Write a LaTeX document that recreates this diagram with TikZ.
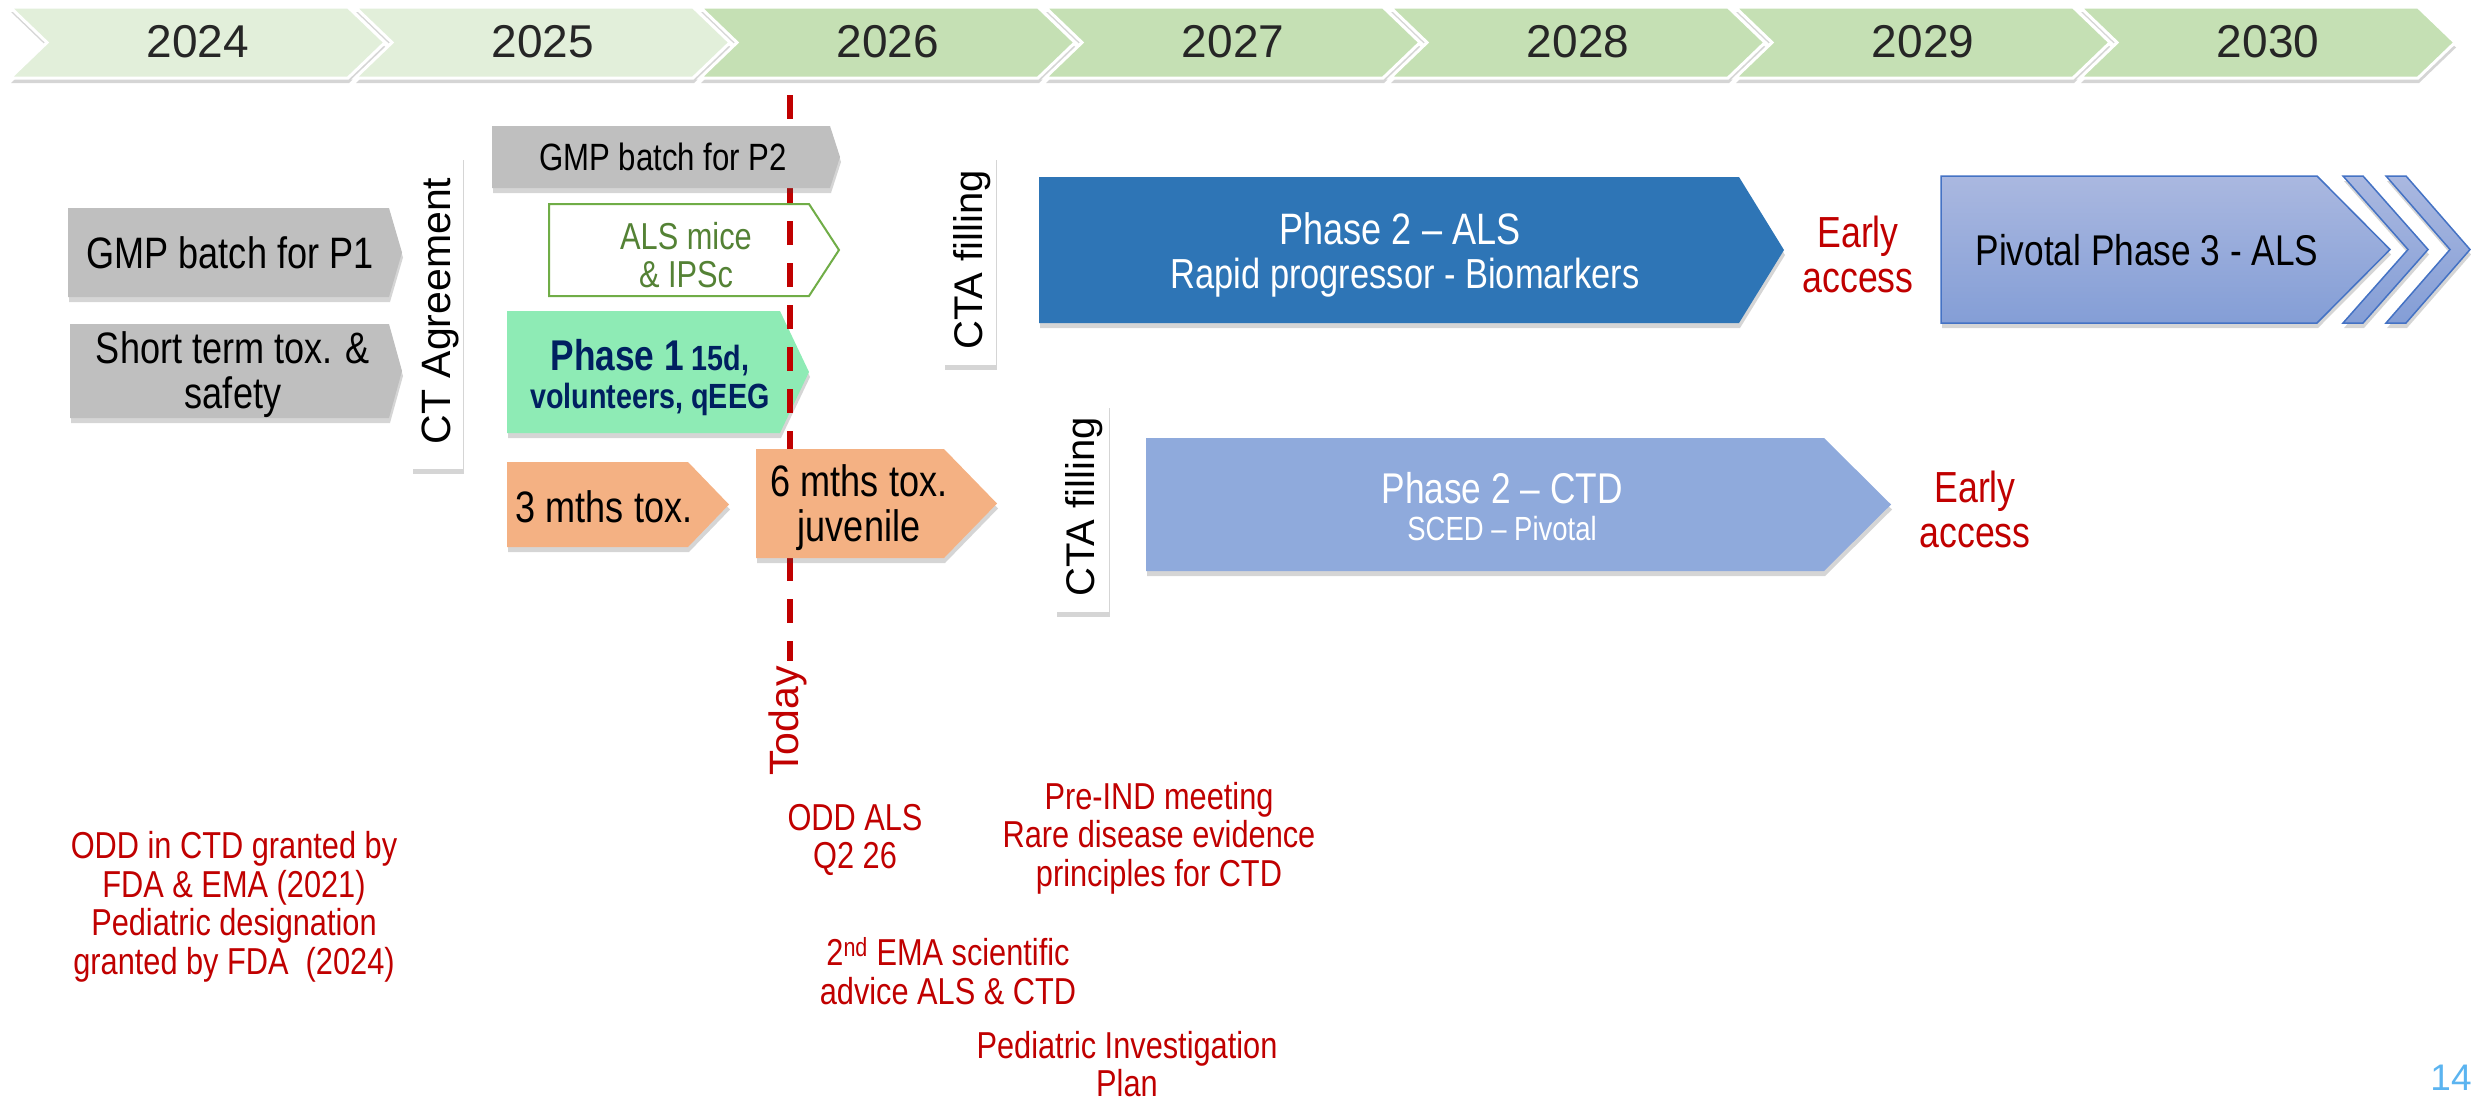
\documentclass[tikz,border=0pt]{standalone}
\usepackage{fontspec}
\setmainfont{Liberation Sans}
\newfontfamily\nar{Liberation Sans}[FakeStretch=0.82,Ligatures=TeX]
\usetikzlibrary{shadows}

\definecolor{yrlight}{RGB}{226,239,218}
\definecolor{yrmid}{RGB}{197,224,180}
\definecolor{yeartext}{RGB}{38,38,38}
\definecolor{boxgray}{RGB}{191,191,191}
\definecolor{mint}{RGB}{142,235,181}
\definecolor{peach}{RGB}{244,177,131}
\definecolor{alsblue}{RGB}{46,117,182}
\definecolor{ctdblue}{RGB}{143,170,220}
\definecolor{pivtop}{RGB}{170,184,224}
\definecolor{pivbot}{RGB}{132,158,214}
\definecolor{pivedge}{RGB}{68,114,196}
\definecolor{darkred}{RGB}{192,0,0}
\definecolor{navy}{RGB}{0,32,96}
\definecolor{leaf}{RGB}{84,130,53}
\definecolor{leafedge}{RGB}{112,173,71}
\definecolor{pageblue}{RGB}{91,180,240}

% pentagon arrow: style, left x, top y, body right x, tip x, bottom y
\newcommand{\tlarrow}[6]{%
  \path[#1] (#2,#3) -- (#4,#3) -- (#5,{0.5*(#3)+0.5*(#6)}) -- (#4,#6) -- (#2,#6) -- cycle;}
% notched chevron: style, left x, top y, top right x, point depth, bottom y
\newcommand{\tlchevron}[6]{%
  \path[#1] (#2,#3) -- (#4,#3) -- ({#4+#5},{0.5*(#3)+0.5*(#6)}) -- (#4,#6) -- (#2,#6)
    -- ({#2+#5},{0.5*(#3)+0.5*(#6)}) -- cycle;}

\begin{document}
\begin{tikzpicture}[x=1pt,y=-1pt,
  shd/.style={drop shadow={shadow xshift=1pt,shadow yshift=-5pt,opacity=0.22,fill=black!75}},
  yearbox/.style={draw=white,line width=3pt,shd},
  yeartxt/.style={font=\fontsize{46}{50}\selectfont,text=yeartext,inner sep=0pt},
  graybox/.style={fill=boxgray,shd},
  peachbox/.style={fill=peach,shd},
  labelbox/.style={fill=white,shd},
  pivbox/.style={top color=pivtop,bottom color=pivbot,draw=pivedge,line width=1.5pt,shd},
  boxtxt/.style={font=\nar\fontsize{44}{45}\selectfont,align=center,inner sep=0pt},
  vlabel/.style={rotate=90,font=\fontsize{41}{41}\selectfont,inner sep=0pt},
  whitetxt/.style={font=\nar\fontsize{43}{45}\selectfont,text=white,inner sep=0pt},
  redtxt/.style={font=\nar\fontsize{37.5}{38.5}\selectfont,text=darkred,align=center,inner sep=0pt},
  earlytxt/.style={font=\nar\fontsize{43.5}{45}\selectfont,text=darkred,align=center,inner sep=0pt},
  todayline/.style={draw=darkred,line width=6pt,dash pattern=on 24pt off 18pt}
]
\useasboundingbox (0,0) rectangle (2471,1106);

% year band
\foreach \yr [count=\i from 0] in {2024,2025,2026,2027,2028,2029,2030}{
  \pgfmathsetmacro{\xl}{10+345*\i}
  \pgfmathsetmacro{\xr}{\xl+338}
  \ifnum\i<2 \def\yrcol{yrlight}\else\def\yrcol{yrmid}\fi
  \tlchevron{yearbox,fill=\yrcol}{\xl}{7}{\xr}{37}{78}
  \node[yeartxt] (yr\yr) at ({\xl+188},42) {\yr};
}

% early studies
\tlarrow{graybox}{68}{208}{389}{402}{297}
\tlarrow{graybox}{70}{324}{389}{402}{418}
\path[labelbox] (412,155) rectangle (463,469);
\path[labelbox] (944,155) rectangle (996,365);
\path[labelbox] (1056,403) rectangle (1109,612);
\tlarrow{peachbox}{507}{462}{688}{729}{547}
\tlarrow{fill=mint,shd}{507}{311}{780}{809}{433}
\tlarrow{fill=white,draw=leafedge,line width=2pt}{549}{204}{809}{839}{296}

% today marker
\coordinate (todaytop) at (790,95);
\coordinate (todaybot) at (790,661);
\draw[todayline] (todaytop) -- (todaybot);

\tlarrow{graybox}{492}{126}{830}{840}{188}
\tlarrow{peachbox}{756}{449}{944}{997}{558}

% clinical phases
\tlarrow{fill=alsblue,shd}{1039}{177}{1739}{1784}{323}
\tlarrow{fill=ctdblue,shd}{1146}{438}{1824}{1891}{571}
\tlarrow{pivbox}{1941}{176}{2317}{2390}{323}
\tlchevron{pivbox}{2343}{176}{2363}{65}{323}
\tlchevron{pivbox}{2386}{176}{2406}{64}{323}

% box texts
\node[boxtxt] (gmp1) at (230,253) {GMP batch for P1};
\node[boxtxt] (stox) at (233,375) {Short term tox. \&\\safety};
\node[vlabel] (ctagr) at (440,311) {CT Agreement};
\node[boxtxt,font=\nar\fontsize{38}{40}\selectfont] (gmp2) at (663,157) {GMP batch for P2};
\node[boxtxt,font=\nar\fontsize{37.5}{38}\selectfont,text=leaf] (mice) at (686,255) {ALS mice\\\& IPSc};
\node[boxtxt,font=\nar\bfseries\fontsize{35}{38}\selectfont,text=navy] (ph1) at (650,378)
  {{\fontsize{43}{44}\selectfont Phase 1} 15d,\\volunteers, qEEG};
\node[boxtxt] (tox3) at (604,507) {3 mths tox.};
\node[boxtxt] (tox6) at (859,508) {6 mths tox.\\juvenile};
\node[vlabel,font=\fontsize{40}{40}\selectfont] (cta1) at (972,260) {CTA filling};
\node[vlabel,font=\fontsize{40}{40}\selectfont] (cta2) at (1084,507) {CTA filling};

\node[whitetxt,font=\nar\fontsize{44}{45}\selectfont] (p2alsa) at (1400,229) {Phase 2 – ALS};
\node[whitetxt,font=\nar\fontsize{42}{45}\selectfont] (p2alsb) at (1405,278) {Rapid progressor - Biomarkers};
\node[earlytxt] (early1) at (1858,254) {Early\\access};
\node[boxtxt,font=\nar\fontsize{43}{45}\selectfont] (p3) at (2147,250) {Pivotal Phase 3 - ALS};
\node[whitetxt] (p2ctda) at (1502,488) {Phase 2 – CTD};
\node[whitetxt,font=\nar\fontsize{33.5}{36}\selectfont] (p2ctdb) at (1502,529) {SCED – Pivotal};
\node[earlytxt] (early2) at (1975,509) {Early\\access};

\node[vlabel,text=darkred] (today) at (788,721) {Today};

% regulatory notes
\node[redtxt] (oddctd) at (234,907) {ODD in CTD granted by\\FDA \& EMA (2021)\\Pediatric designation\\granted by FDA\ \ (2024)};
\node[redtxt] (oddals) at (855,840) {ODD ALS\\Q2 26};
\node[redtxt] (preind) at (1159,838) {Pre-IND meeting\\Rare disease evidence\\principles for CTD};
\node[redtxt] (ema) at (948,971) {2\textsuperscript{nd} EMA scientific\\advice ALS \& CTD};
\node[redtxt] (pip) at (1127,1064) {Pediatric Investigation\\Plan};

\node[font=\fontsize{37}{40}\selectfont,text=pageblue,inner sep=0pt] (pgnum) at (2451,1078) {14};
\end{tikzpicture}
\end{document}
